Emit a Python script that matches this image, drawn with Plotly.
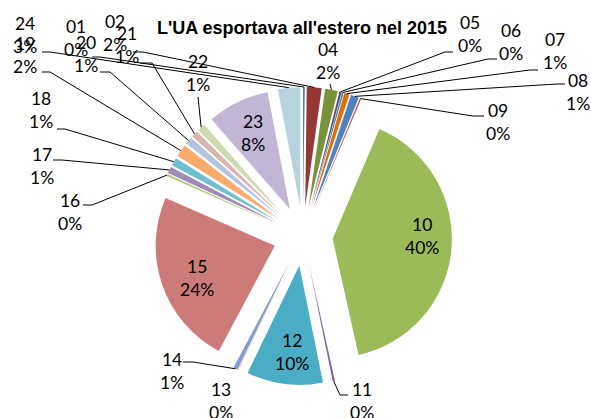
import math
import plotly.graph_objects as go

# ---------------- data ----------------
categories = ["01", "02", "04", "05", "06", "07", "08", "09", "10", "11", "12", "13",
              "14", "15", "16", "17", "18", "19", "20", "21", "22", "23", "24"]
values = [0.2, 2.0, 1.7, 0.3, 0.2, 0.7, 1.1, 0.2, 40.0, 0.3, 10.3, 0.05,
          0.6, 23.7, 0.3, 0.9, 1.1, 1.7, 1.0, 0.9, 1.1, 8.4, 3.0]
colors = ["#376092", "#953735", "#77933C", "#604A7B", "#31859C", "#E46C0A",
          "#4F81BD", "#C0504D", "#9BBB59", "#8064A2", "#4BACC6", "#F79646",
          "#7E9FD1", "#CC7B79", "#AFCB7A", "#9F8AB9", "#6FBDD1", "#F9AB6B",
          "#B4C3DE", "#DDB3B2", "#CCDCB0", "#C1B6D3", "#B5D4DF"]
title_text = "L'UA esportava all'estero nel 2015"

# ---------------- layout (window pixels) ----------------
W, H = 591, 418
CX, CY = 303, 236       # pie centre
OUTER = 149             # radius incl. explosion
PULL = 0.25

# label block centres (px)
label_pos = {
    "24": (25, 35), "19": (25, 55), "01": (76, 38.5), "20": (86, 54),
    "02": (115, 33), "21": (127, 45), "22": (198, 72.5), "18": (41, 110),
    "17": (42, 166), "16": (70, 212), "14": (172, 370.5), "13": (221, 400.5),
    "11": (362, 400.5), "12": (292, 351.5), "15": (197, 278), "10": (422, 235.5),
    "23": (253, 132.5), "04": (328, 61.5), "05": (470, 33.5), "06": (511, 42),
    "07": (555, 51.5), "08": (578, 92), "09": (498, 122),
}
# leader line stubs: (point joined to slice, point next to label)
leaders = {
    "24": ((50, 52), (42, 52)), "19": ((50, 72), (42, 72)),
    "01": ((100, 57), (92, 57)), "20": ((110, 72), (100, 72)),
    "02": ((143, 52), (133, 52)), "21": ((152, 63), (140, 63)),
    "22": ((198, 97), (198, 97)), "18": ((65, 129), (57, 129)),
    "17": ((62, 160), (53, 160)), "16": ((92, 205), (83, 205)),
    "14": ((193, 362), (183, 362)), "11": ((340, 395), (348, 395)),
    "04": ((330, 84), (330, 84)), "05": ((445, 52), (453, 52)),
    "06": ((488, 59), (497, 59)), "07": ((530, 70), (538, 70)),
    "08": ((557, 84), (565, 84)), "09": ((473, 116), (484, 116)),
}


def px(x):
    return x / W


def py(y):
    return 1 - y / H


fig = go.Figure(go.Pie(
    labels=categories, values=values, sort=False, direction="clockwise",
    rotation=0, pull=[PULL] * len(values), textinfo="none",
    marker=dict(colors=colors, line=dict(width=0)),
    domain=dict(x=[px(CX - OUTER), px(CX + OUTER)],
                y=[py(CY + OUTER), py(CY - OUTER)]),
    hoverinfo="label+percent",
))

total = sum(values)
annotations = []
shapes = []
cum = 0.0
for cat, v in zip(categories, values):
    mid = (cum + v / 2) / total * 2 * math.pi
    cum += v
    pct = round(v / total * 100)
    lx, ly = label_pos[cat]
    annotations.append(dict(
        x=px(lx), y=py(ly), xref="paper", yref="paper", showarrow=False,
        text=f"{cat}<br>{pct}%", xanchor="center", yanchor="middle",
        font=dict(family="Lato", size=17.5, color="#000000"),
    ))
    if cat in leaders:
        sx = CX + OUTER * math.sin(mid)
        sy = CY - OUTER * math.cos(mid)
        (ax, ay), (bx, by) = leaders[cat]
        path = (f"M {px(sx)},{py(sy)} L {px(ax)},{py(ay)} "
                f"L {px(bx)},{py(by)}")
        shapes.append(dict(type="path", xref="paper", yref="paper",
                           path=path, line=dict(color="#000000", width=1)))

fig.update_layout(
    width=W, height=H, margin=dict(l=0, r=0, t=0, b=0),
    paper_bgcolor="white", plot_bgcolor="white", showlegend=False,
    title=dict(text=f"<b>{title_text}</b>", x=px(302), xanchor="center",
               xref="paper", y=py(28), yanchor="middle", yref="container",
               font=dict(family="Liberation Sans", size=18, color="#000000")),
    annotations=annotations, shapes=shapes,
)

fig.write_html(
    "out.html",
    config={"displayModeBar": False},
    post_script="document.body.style.margin='0';document.body.style.overflow='hidden';",
)
